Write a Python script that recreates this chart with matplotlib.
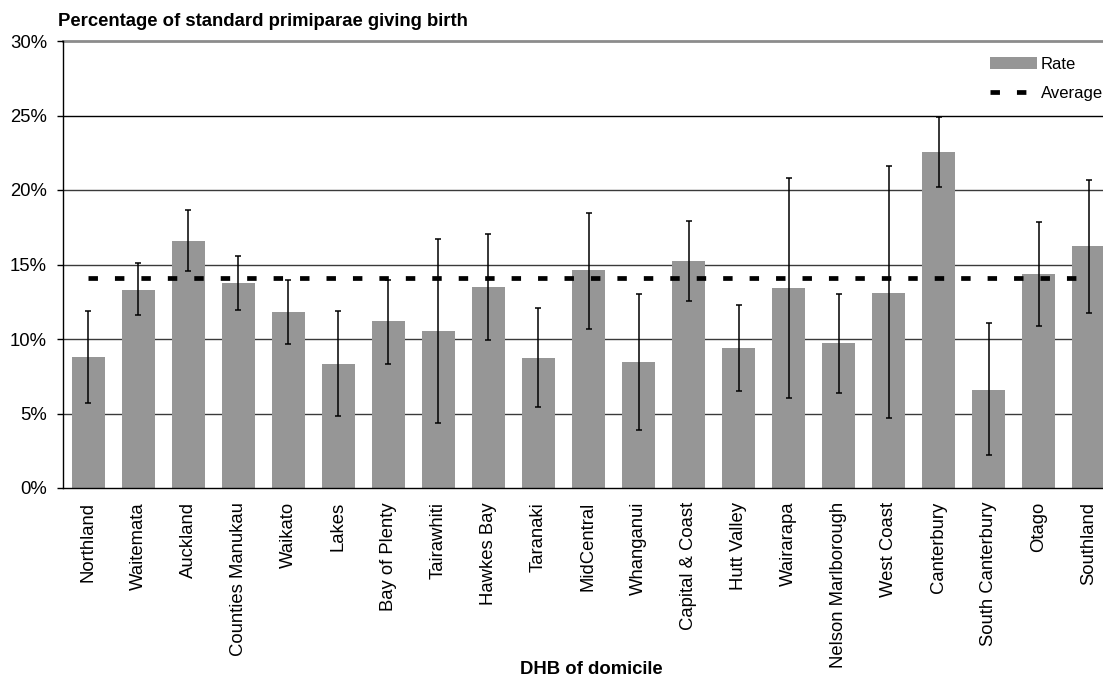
import numpy as np
import matplotlib.pyplot as plt
from matplotlib.patches import Patch
from matplotlib.lines import Line2D

plt.rcParams['font.family'] = ['Liberation Sans', 'DejaVu Sans']

dhbs = ["Northland", "Waitemata", "Auckland", "Counties Manukau", "Waikato", "Lakes",
        "Bay of Plenty", "Tairawhiti", "Hawkes Bay", "Taranaki", "MidCentral", "Whanganui",
        "Capital & Coast", "Hutt Valley", "Wairarapa", "Nelson Marlborough", "West Coast",
        "Canterbury", "South Canterbury", "Otago", "Southland"]
rate = [8.8, 13.3, 16.6, 13.75, 11.8, 8.35, 11.2, 10.55, 13.5, 8.75, 14.6, 8.45,
        15.25, 9.4, 13.45, 9.7, 13.1, 22.55, 6.6, 14.35, 16.25]
upper = [11.85, 15.1, 18.65, 15.6, 13.95, 11.9, 13.95, 16.7, 17.05, 12.1, 18.45, 13.05,
         17.9, 12.3, 20.8, 13.05, 21.6, 24.9, 11.05, 17.85, 20.7]
lower = [5.72, 11.58, 14.58, 11.96, 9.66, 4.85, 8.32, 4.34, 9.93, 5.41, 10.66, 3.87,
         12.56, 6.53, 6.06, 6.35, 4.67, 20.19, 2.19, 10.89, 11.74]
average = 14.1

x = np.arange(len(dhbs))
rate = np.array(rate)
yerr = [rate - np.array(lower), np.array(upper) - rate]

fig = plt.figure(figsize=(11.03, 6.77), dpi=100)
ax = fig.add_axes([63 / 1103, 189 / 677, 1051 / 1103, 447 / 677])

for g in [5, 10, 15, 20]:
    ax.axhline(g, color='#3a3a3a', lw=1.0, zorder=0)
ax.axhline(25, color='black', lw=1.0, zorder=0)
ax.axhline(30, color='#8c8c8c', lw=2.0, zorder=0, clip_on=False)

ax.bar(x, rate, width=0.66, color='#969696', zorder=2)
ax.errorbar(x, rate, yerr=yerr, fmt='none', ecolor='black', elinewidth=1.1,
            capsize=2.5, capthick=1.1, zorder=3)
ax.plot([x[0], x[-1]], [average, average], color='black', lw=3.4,
        linestyle=(0, (2, 3.6)), zorder=4)

ax.set_xlim(-0.5, len(dhbs) - 0.5)
ax.set_ylim(0, 30)
ax.set_yticks(np.arange(0, 31, 5))
ax.set_yticklabels([f"{v}%" for v in range(0, 31, 5)], fontsize=13.3)
ax.set_xticks(x)
ax.set_xticklabels(dhbs, rotation=90, fontsize=13.3)
ax.tick_params(axis='x', length=0, pad=10)
ax.tick_params(axis='y', length=4.5, width=1, pad=7)

for s in ['top', 'right']:
    ax.spines[s].set_visible(False)
ax.spines['left'].set_linewidth(1.0)
ax.spines['bottom'].set_linewidth(1.0)

fig.text(591 / 1103, 1 - 670 / 677, "DHB of domicile", fontsize=13.3,
         fontweight='bold', va='center', ha='center')
fig.text(58 / 1103, 1 - 21 / 677, "Percentage of standard primiparae giving birth",
         fontsize=13.3, fontweight='bold', va='center', ha='left')

# legend sits in the top right, "Average" runs up to the edge like the original
handles = [Patch(facecolor='#969696', edgecolor='none'),
           Line2D([0], [0], color='black', lw=3.4, linestyle=(0, (2, 3.6)))]
fig.legend(handles, ["Rate", "Average"], loc='upper left',
           bbox_to_anchor=(990 / 1103, 1 - 57 / 677), frameon=False, fontsize=12,
           borderpad=0, borderaxespad=0, handlelength=2.82, handletextpad=0.24,
           labelspacing=0.85)

fig.savefig("out.png", dpi=100)
